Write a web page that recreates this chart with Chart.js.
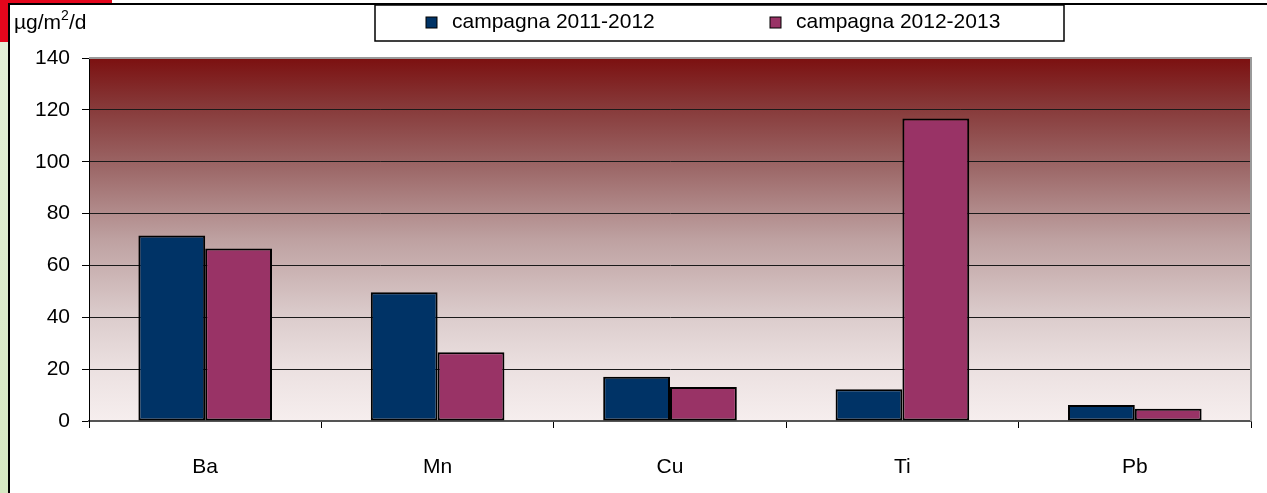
<!DOCTYPE html>
<html>
<head>
<meta charset="utf-8">
<script src="https://cdn.jsdelivr.net/npm/chart.js@4"></script>
<style>
  body { margin: 0; background: #fff; }
  canvas { display: block; }
</style>
</head>
<body>
<canvas id="myChart" width="1267" height="493"></canvas>
<script>
const categories = ['Ba', 'Mn', 'Cu', 'Ti', 'Pb'];
const seriesNames = ['campagna 2011-2012', 'campagna 2012-2013'];
const values2011 = [71.5, 49.7, 17.1, 12.2, 6.2];
const values2012 = [66.5, 26.5, 13.1, 116.7, 4.7];
const yTicks = [0, 20, 40, 60, 80, 100, 120, 140];

const FONT = "'Liberation Sans', Arial, sans-serif";
const ctx = document.getElementById('myChart');

// slide background pieces, outer frame, gradient plot area
const backdrop = {
  id: 'backdrop',
  beforeDraw(chart) {
    const c = chart.ctx;
    const a = chart.chartArea;
    c.save();
    // green strip on the left
    const g = c.createLinearGradient(0, 0, 0, 493);
    g.addColorStop(0, '#e4f0d8');
    g.addColorStop(1, '#d6e8c2');
    c.fillStyle = g;
    c.fillRect(0, 0, 8, 493);
    // red bits top-left
    c.fillStyle = '#e3061c';
    c.fillRect(0, 0, 8, 42);
    c.fillRect(0, 0, 112, 3);
    // frame
    c.strokeStyle = '#000';
    c.lineWidth = 2;
    c.beginPath();
    c.moveTo(9, 493);
    c.lineTo(9, 4);
    c.lineTo(1267, 4);
    c.stroke();
    // plot gradient
    const pg = c.createLinearGradient(0, a.top, 0, a.bottom);
    pg.addColorStop(0, '#7c1010');
    pg.addColorStop(0.12, '#853535');
    pg.addColorStop(0.3, '#9c6767');
    pg.addColorStop(0.5, '#bea1a1');
    pg.addColorStop(0.7, '#dacaca');
    pg.addColorStop(0.85, '#ebe0e0');
    pg.addColorStop(1, '#f6eeee');
    c.fillStyle = pg;
    c.fillRect(a.left, a.top, a.right - a.left, a.bottom - a.top);
    c.restore();
  },
  afterDatasetsDraw(chart) {
    const c = chart.ctx;
    const a = chart.chartArea;
    c.save();
    c.strokeStyle = '#9a9a9a';
    c.lineWidth = 2;
    c.beginPath();
    c.moveTo(a.left, a.top);
    c.lineTo(a.right, a.top);
    c.lineTo(a.right, a.bottom);
    c.stroke();
    // axis title
    c.fillStyle = '#000';
    c.textBaseline = 'alphabetic';
    c.font = '21px ' + FONT;
    c.fillText('\u00b5g/m', 14, 29);
    let w = c.measureText('\u00b5g/m').width;
    c.font = '14px ' + FONT;
    c.fillText('2', 14 + w, 20);
    let w2 = c.measureText('2').width;
    c.font = '21px ' + FONT;
    c.fillText('/d', 14 + w + w2, 29);
    c.restore();
  },
  afterDraw(chart) {
    // legend box
    const c = chart.ctx;
    c.save();
    c.fillStyle = '#fff';
    c.fillRect(375, 5, 689, 36);
    c.strokeStyle = '#000';
    c.lineWidth = 1.5;
    c.strokeRect(375, 5, 689, 36);
    const xs = [426, 770];
    chart.data.datasets.forEach((ds, i) => {
      c.fillStyle = ds.backgroundColor;
      c.fillRect(xs[i], 17, 11, 11);
      c.strokeStyle = '#000';
      c.lineWidth = 1;
      c.strokeRect(xs[i], 17, 11, 11);
      c.fillStyle = '#000';
      c.font = '21px ' + FONT;
      c.textBaseline = 'middle';
      c.fillText(ds.label, xs[i] + 26, 22);
    });
    c.restore();
  }
};

const myChart = new Chart(ctx, {
  type: 'bar',
  data: {
    labels: categories,
    datasets: [{
      label: seriesNames[0],
      data: values2011,
      backgroundColor: '#003366',
      borderColor: '#000',
      borderWidth: 2,
      borderSkipped: false
    }, {
      label: seriesNames[1],
      data: values2012,
      backgroundColor: '#993366',
      borderColor: '#000',
      borderWidth: 2,
      borderSkipped: false
    }]
  },
  options: {
    responsive: false,
    animation: false,
    layout: { padding: { left: 0, top: 58, right: 16, bottom: 0 } },
    datasets: {
      bar: { barPercentage: 1, categoryPercentage: 0.575 }
    },
    plugins: {
      legend: { display: false },
      tooltip: { enabled: false }
    },
    scales: {
      x: {
        afterFit(scale) { scale.height = 72; },
        grid: {
          drawOnChartArea: false,
          drawTicks: true,
          tickLength: 7,
          offset: true,
          color: '#000',
          lineWidth: 1
        },
        border: { color: '#555', width: 2 },
        ticks: {
          color: '#000',
          padding: 27,
          font: { family: FONT, size: 21 }
        }
      },
      y: {
        min: 0,
        max: 140,
        afterFit(scale) { scale.width = 89; },
        afterBuildTicks(scale) {
          scale.ticks = yTicks.map(v => ({ value: v }));
        },
        grid: {
          color: '#1a1a1a',
          lineWidth: 1,
          tickLength: 7,
          tickColor: '#000'
        },
        border: { color: '#000', width: 1 },
        ticks: {
          color: '#000',
          padding: 12,
          font: { family: FONT, size: 21 }
        }
      }
    }
  },
  plugins: [backdrop]
});
</script>
</body>
</html>
